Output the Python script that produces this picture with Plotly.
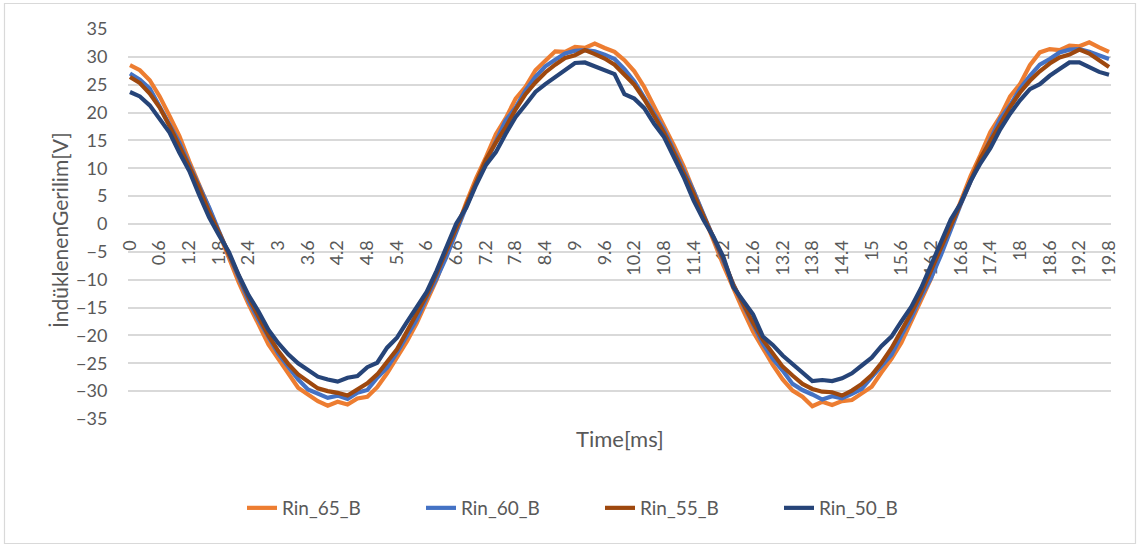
import plotly.graph_objects as go

time_ms = [round(i * 0.2, 1) for i in range(100)]

rin_65_b = [28.5, 27.6, 25.8, 22.9, 19.4, 15.8, 11.2, 7.1, 2.8, -1.6,
            -6.1, -10.5, -14.4, -17.9, -21.6, -24.2, -26.9, -29.4, -30.6, -31.8,
            -32.6, -31.9, -32.4, -31.3, -31.0, -29.3, -26.8, -24.1, -21.1, -17.8,
            -13.9, -10.0, -5.2, -1.0, 3.8, 8.2, 12.0, 16.1, 19.0, 22.5,
            24.6, 27.6, 29.3, 31.0, 30.9, 31.8, 31.6, 32.4, 31.6, 30.9,
            29.4, 27.4, 24.6, 21.2, 17.8, 14.1, 10.3, 6.0, 1.5, -2.9,
            -7.4, -11.6, -15.5, -19.3, -22.4, -25.3, -27.9, -29.9, -31.0, -32.7,
            -31.9, -32.5, -31.8, -31.6, -30.4, -29.2, -26.6, -24.2, -21.3, -17.6,
            -13.8, -9.8, -5.0, -0.6, 4.1, 8.6, 12.4, 16.5, 19.3, 22.9,
            25.1, 28.5, 30.8, 31.4, 31.2, 32.0, 31.9, 32.6, 31.7, 30.9]

rin_60_b = [27.0, 25.9, 24.3, 21.0, 17.8, 14.6, 10.6, 6.9, 3.0, -1.3,
            -5.5, -9.6, -13.8, -17.2, -20.4, -23.3, -25.6, -27.9, -29.7, -30.4,
            -31.2, -30.8, -31.4, -30.3, -29.8, -27.6, -25.8, -23.1, -20.0, -17.1,
            -13.2, -9.8, -5.9, -1.2, 3.1, 7.3, 11.0, 15.0, 18.6, 20.9,
            24.0, 26.4, 28.3, 29.5, 30.6, 31.1, 31.2, 31.0, 30.4, 29.6,
            27.8, 25.6, 22.8, 20.0, 16.9, 13.2, 9.5, 5.9, 1.7, -2.6,
            -6.5, -10.8, -14.5, -18.2, -21.5, -24.2, -26.3, -28.7, -29.8, -30.6,
            -31.5, -30.9, -31.3, -30.5, -29.6, -27.5, -25.6, -23.5, -20.0, -16.8,
            -13.0, -9.7, -5.6, -1.0, 3.5, 7.6, 11.4, 15.3, 18.9, 21.3,
            24.3, 26.6, 28.6, 29.6, 30.8, 31.3, 31.4, 30.9, 30.3, 29.6]

rin_55_b = [26.4, 25.3, 23.4, 20.9, 17.6, 14.1, 10.3, 6.5, 2.2, -1.5,
            -5.3, -9.5, -13.2, -16.6, -20.0, -22.8, -25.1, -27.0, -28.3, -29.5,
            -30.0, -30.3, -30.8, -29.8, -28.6, -27.0, -24.8, -22.5, -19.3, -16.2,
            -12.8, -8.9, -4.8, -0.6, 3.5, 7.4, 11.6, 14.6, 17.4, 20.6,
            23.3, 25.4, 27.2, 28.6, 29.8, 30.3, 31.2, 30.5, 29.7, 28.6,
            26.8, 25.0, 22.4, 19.5, 16.4, 12.8, 9.2, 5.4, 1.4, -2.4,
            -6.3, -10.9, -14.4, -17.7, -20.8, -23.3, -25.6, -27.2, -28.7, -29.6,
            -30.1, -30.2, -30.8, -29.9, -28.7, -27.1, -24.9, -22.3, -19.2, -16.0,
            -12.4, -8.5, -4.3, -0.3, 3.7, 7.8, 11.8, 14.9, 17.9, 21.0,
            23.6, 25.7, 27.4, 28.8, 29.9, 30.4, 31.3, 30.6, 29.4, 28.2]

rin_50_b = [23.7, 22.9, 21.3, 18.8, 16.4, 12.8, 9.5, 5.2, 1.2, -2.0,
            -5.0, -9.2, -12.8, -15.7, -19.0, -21.4, -23.4, -25.0, -26.3, -27.4,
            -27.9, -28.3, -27.6, -27.3, -25.7, -24.9, -22.2, -20.4, -17.6, -15.0,
            -12.2, -8.4, -4.1, 0.1, 2.9, 7.0, 10.6, 12.9, 16.2, 19.2,
            21.4, 23.7, 25.1, 26.4, 27.7, 28.9, 29.0, 28.3, 27.5, 26.9,
            23.3, 22.5, 20.8, 18.0, 15.6, 12.0, 8.4, 4.2, 0.7, -2.3,
            -5.9, -11.3, -13.6, -16.2, -20.2, -21.7, -23.6, -25.1, -26.5, -28.2,
            -28.0, -28.2, -27.7, -26.8, -25.4, -24.0, -21.9, -20.2, -17.5, -14.9,
            -11.5, -7.3, -3.0, 0.8, 3.7, 7.7, 10.9, 13.6, 17.0, 19.8,
            22.2, 24.2, 25.1, 26.6, 27.8, 29.0, 29.0, 28.2, 27.3, 26.8]

series_names = ["Rin_65_B", "Rin_60_B", "Rin_55_B", "Rin_50_B"]
series_values = [rin_65_b, rin_60_b, rin_55_b, rin_50_b]
series_colors = ["#ED7D31", "#4472C4", "#9E480E", "#264478"]

x_tick_vals = [round(i * 0.6, 1) for i in range(34)]
x_tick_text = [("%g" % v) for v in x_tick_vals]
y_tick_vals = list(range(-35, 40, 5))

FONT = "Lato"
GRAY = "#595959"

fig = go.Figure()
for name, vals, col in zip(series_names, series_values, series_colors):
    fig.add_trace(go.Scatter(x=time_ms, y=vals, mode="lines", name=name,
                             line=dict(color=col, width=4.2)))

# plot area: x 128..1111, y 29..419
L, R, T, B = 128, 1111, 29, 419
W, H = R - L, B - T
def px(x):
    return (x - L) / W
def py(y):
    return (B - y) / H

fig.update_layout(
    width=1140, height=546,
    margin=dict(l=L, r=1140 - R, t=T, b=546 - B, pad=0),
    paper_bgcolor="white", plot_bgcolor="white",
    font=dict(family=FONT, color=GRAY, size=18),
    showlegend=True,
    legend=dict(orientation="h", x=px(600), xanchor="center", y=py(508), yanchor="middle",
                font=dict(size=19, color=GRAY), itemwidth=30, tracegroupgap=0,
                entrywidth=134, entrywidthmode="pixels"),
    xaxis=dict(range=[-0.04, 19.84], tickmode="array", tickvals=x_tick_vals, ticktext=x_tick_text,
               tickangle=-90, anchor="free", position=0.5, showgrid=False, zeroline=False,
               showline=False, ticks="outside", ticklen=8, tickcolor="rgba(0,0,0,0)",
               tickfont=dict(size=18, color=GRAY), layer="below traces"),
    yaxis=dict(range=[-35, 35], tickmode="array", tickvals=y_tick_vals, showgrid=True,
               gridcolor="#D9D9D9", gridwidth=1.6, zeroline=False, showline=False,
               ticks="outside", ticklen=16, tickcolor="rgba(0,0,0,0)",
               tickfont=dict(size=18, color=GRAY)),
    annotations=[
        dict(text="Time[ms]", x=px(620), y=py(438), xref="paper", yref="paper",
             showarrow=False, font=dict(size=22, color=GRAY), xanchor="center", yanchor="middle"),
        dict(text="İndüklenenGerilim[V]", x=px(60), y=py(230), xref="paper", yref="paper",
             showarrow=False, textangle=-90, font=dict(size=21, color=GRAY),
             xanchor="center", yanchor="middle"),
    ],
    shapes=[dict(type="rect", xref="paper", yref="paper", x0=px(4.5), x1=px(1135.5),
                 y0=py(543.5), y1=py(3.5), line=dict(color="#D9D9D9", width=1.2),
                 fillcolor="rgba(0,0,0,0)", layer="below")],
)

fig.write_html("out.html")
